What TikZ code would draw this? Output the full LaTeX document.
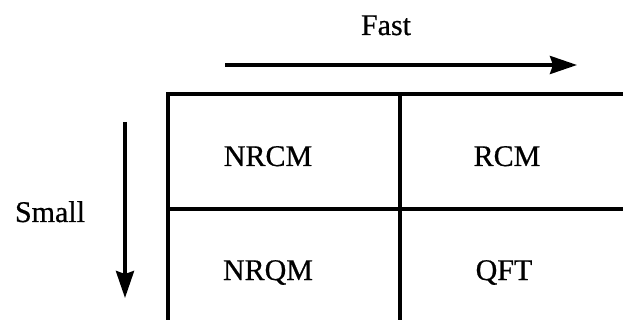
\documentclass[tikz,border=0pt]{standalone}
\usepackage{fontspec}
\setmainfont{Liberation Serif}[FakeBold=0.6]
\usetikzlibrary{arrows.meta}
\begin{document}
\begin{tikzpicture}[x=1pt,y=1pt,
  lbl/.style={font=\fontsize{30}{33}\selectfont, inner sep=0pt, anchor=base},
  grid/.style={line width=3.6pt},
  arr/.style={line width=3.6pt, -{Stealth[length=27pt,width=18pt,inset=3pt]}}]
\useasboundingbox (0,0) rectangle (623,-320);
% grid (open on the right and bottom)
\draw[grid] (168,-320) -- (168,-94) -- (623,-94);
\draw[grid] (168,-209) -- (623,-209);
\draw[grid] (400,-94) -- (400,-320);
% labels
\node[lbl] (fast) at (386,-35) {Fast};
\node[lbl] (small) at (50,-222) {Small};
\node[lbl] (nrcm) at (268,-166) {NRCM};
\node[lbl] (rcm) at (507,-166) {RCM};
\node[lbl] (nrqm) at (268,-280) {NRQM};
\node[lbl] (qft) at (504,-280) {QFT};
% arrows
\coordinate (fa) at (225,-65);
\coordinate (fb) at (577,-65);
\coordinate (sa) at (125,-122);
\coordinate (sb) at (125,-298);
\draw[arr] (fa) -- (fb);
\draw[arr] (sa) -- (sb);
\end{tikzpicture}
\end{document}
